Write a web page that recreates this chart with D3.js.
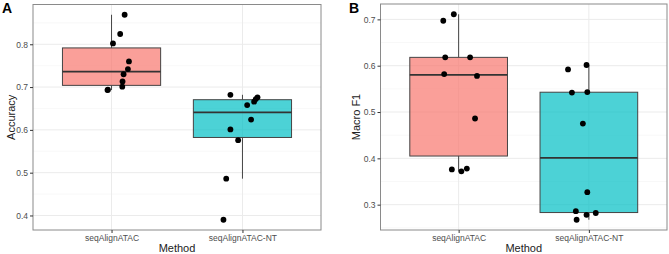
<!DOCTYPE html>
<html>
<head>
<meta charset="utf-8">
<script src="https://cdn.jsdelivr.net/npm/d3@7"></script>
<style>
  body { margin: 0; background: #fff; }
  svg text { font-family: "Liberation Sans", Arial, Helvetica, sans-serif; }
</style>
</head>
<body>
<div id="chart"></div>
<script>
// categories on the x axis
const methods = ["seqAlignATAC", "seqAlignATAC-NT"];

// panel A: accuracy per run
const accuracyATAC = [0.869, 0.824, 0.802, 0.760, 0.742, 0.730, 0.713, 0.701, 0.693, 0.694];
const accuracyNT   = [0.682, 0.676, 0.672, 0.666, 0.658, 0.624, 0.601, 0.576, 0.486, 0.390];

// panel B: macro F1 per run
const macroF1ATAC = [0.697, 0.711, 0.618, 0.618, 0.582, 0.578, 0.486, 0.376, 0.372, 0.378];
const macroF1NT   = [0.592, 0.6015, 0.542, 0.543, 0.475, 0.327, 0.286, 0.278, 0.282, 0.2675];

// jitter offsets (in category units)
const jitterAccATAC = [0.10, 0.066, 0.011, 0.133, 0.125, 0.092, 0.084, 0.082, -0.031, -0.028];
const jitterAccNT   = [-0.092, 0.115, 0.102, 0.089, 0.036, 0.066, -0.092, -0.033, -0.124, -0.145];
const jitterF1ATAC  = [-0.118, -0.037, -0.103, 0.088, -0.111, 0.141, 0.126, -0.052, 0.021, 0.063];
const jitterF1NT    = [-0.16, -0.018, -0.13, -0.012, -0.046, -0.012, -0.10, -0.018, 0.053, -0.094];

// tick labels
const accuracyTicks = [0.4, 0.5, 0.6, 0.7, 0.8];
const f1Ticks = [0.3, 0.4, 0.5, 0.6, 0.7];

const fills = ["#F8766D", "#00BFC4"];

const svg = d3.select("#chart").append("svg")
    .attr("width", 669)
    .attr("height", 254);

function boxStats(values) {
    const s = values.slice().sort(d3.ascending);
    const q1 = d3.quantile(s, 0.25), med = d3.quantile(s, 0.5), q3 = d3.quantile(s, 0.75);
    const iqr = q3 - q1;
    const lo = d3.min(s.filter(v => v >= q1 - 1.5 * iqr));
    const hi = d3.max(s.filter(v => v <= q3 + 1.5 * iqr));
    return {q1, med, q3, lo, hi};
}

function drawPanel(opts) {
    const {left, right, top, bottom, series, jitters, ticks, yTitle, tag, tagX, titleX} = opts;
    const g = svg.append("g");

    const all = series.flat();
    const ext = d3.extent(all);
    const pad = (ext[1] - ext[0]) * 0.05;
    const y = d3.scaleLinear().domain([ext[0] - pad, ext[1] + pad]).range([bottom, top]);
    const x = d3.scaleLinear().domain([-0.6, methods.length - 0.4]).range([left, right]);

    // minor grid
    const step = ticks[1] - ticks[0];
    const minor = d3.range(ticks[0] - step / 2, ticks[ticks.length - 1] + step, step)
        .filter(v => v >= y.domain()[0] && v <= y.domain()[1]);
    g.selectAll(".minor").data(minor).join("line")
        .attr("x1", left).attr("x2", right)
        .attr("y1", d => y(d)).attr("y2", d => y(d))
        .attr("stroke", "#f4f4f4").attr("stroke-width", 0.6);

    // major grid
    g.selectAll(".major").data(ticks).join("line")
        .attr("x1", left).attr("x2", right)
        .attr("y1", d => y(d)).attr("y2", d => y(d))
        .attr("stroke", "#ebebeb").attr("stroke-width", 1);
    g.selectAll(".vmajor").data(methods).join("line")
        .attr("x1", (d, i) => x(i)).attr("x2", (d, i) => x(i))
        .attr("y1", top).attr("y2", bottom)
        .attr("stroke", "#ebebeb").attr("stroke-width", 1);

    const boxW = 0.75;
    series.forEach((vals, i) => {
        const st = boxStats(vals);
        const bg = g.append("g");
        bg.append("line")
            .attr("x1", x(i)).attr("x2", x(i))
            .attr("y1", y(st.hi)).attr("y2", y(st.q3))
            .attr("stroke", "#444").attr("stroke-width", 1);
        bg.append("line")
            .attr("x1", x(i)).attr("x2", x(i))
            .attr("y1", y(st.q1)).attr("y2", y(st.lo))
            .attr("stroke", "#444").attr("stroke-width", 1);
        bg.append("rect")
            .attr("x", x(i - boxW / 2)).attr("width", x(i + boxW / 2) - x(i - boxW / 2))
            .attr("y", y(st.q3)).attr("height", y(st.q1) - y(st.q3))
            .attr("fill", fills[i]).attr("fill-opacity", 0.7)
            .attr("stroke", "#444").attr("stroke-width", 1);
        bg.append("line")
            .attr("x1", x(i - boxW / 2)).attr("x2", x(i + boxW / 2))
            .attr("y1", y(st.med)).attr("y2", y(st.med))
            .attr("stroke", "#333").attr("stroke-width", 1.8);
    });

    // jittered points
    series.forEach((vals, i) => {
        g.selectAll(".pt" + i).data(vals).join("circle")
            .attr("cx", (d, k) => x(i + jitters[i][k]))
            .attr("cy", d => y(d))
            .attr("r", 2.9)
            .attr("fill", "#000");
    });

    // panel border
    g.append("rect")
        .attr("x", left).attr("y", top)
        .attr("width", right - left).attr("height", bottom - top)
        .attr("fill", "none").attr("stroke", "#8a8a8a").attr("stroke-width", 1);

    // y axis
    const yAxis = d3.axisLeft(y).tickValues(ticks).tickFormat(d3.format(".1f")).tickSize(3).tickPadding(2);
    const ya = g.append("g").attr("transform", `translate(${left},0)`).call(yAxis);
    ya.select(".domain").remove();
    ya.selectAll(".tick line").attr("stroke", "#333");
    ya.selectAll(".tick text").attr("fill", "#4d4d4d").style("font-size", "8.5px");

    // x axis
    const xAxis = d3.axisBottom(x).tickValues(d3.range(methods.length)).tickFormat(i => methods[i]).tickSize(3).tickPadding(2);
    const xa = g.append("g").attr("transform", `translate(0,${bottom})`).call(xAxis);
    xa.select(".domain").remove();
    xa.selectAll(".tick line").attr("stroke", "#333");
    xa.selectAll(".tick text").attr("fill", "#4d4d4d").style("font-size", "8.5px");

    // titles
    g.append("text")
        .attr("x", (left + right) / 2).attr("y", 252)
        .attr("text-anchor", "middle")
        .style("font-size", "11px").attr("fill", "#222")
        .text("Method");
    g.append("text")
        .attr("transform", `translate(${titleX},${(top + bottom) / 2}) rotate(-90)`)
        .attr("text-anchor", "middle")
        .style("font-size", "11px").attr("fill", "#222")
        .text(yTitle);
    g.append("text")
        .attr("x", tagX).attr("y", 13)
        .style("font-size", "14px").style("font-weight", "bold").attr("fill", "#000")
        .text(tag);
}

drawPanel({
    left: 33, right: 321, top: 4.5, bottom: 230,
    series: [accuracyATAC, accuracyNT],
    jitters: [jitterAccATAC, jitterAccNT],
    ticks: accuracyTicks, yTitle: "Accuracy", tag: "A", tagX: 2, titleX: 15
});

drawPanel({
    left: 380.5, right: 667, top: 4, bottom: 230,
    series: [macroF1ATAC, macroF1NT],
    jitters: [jitterF1ATAC, jitterF1NT],
    ticks: f1Ticks, yTitle: "Macro F1", tag: "B", tagX: 349, titleX: 360
});
</script>
</body>
</html>
